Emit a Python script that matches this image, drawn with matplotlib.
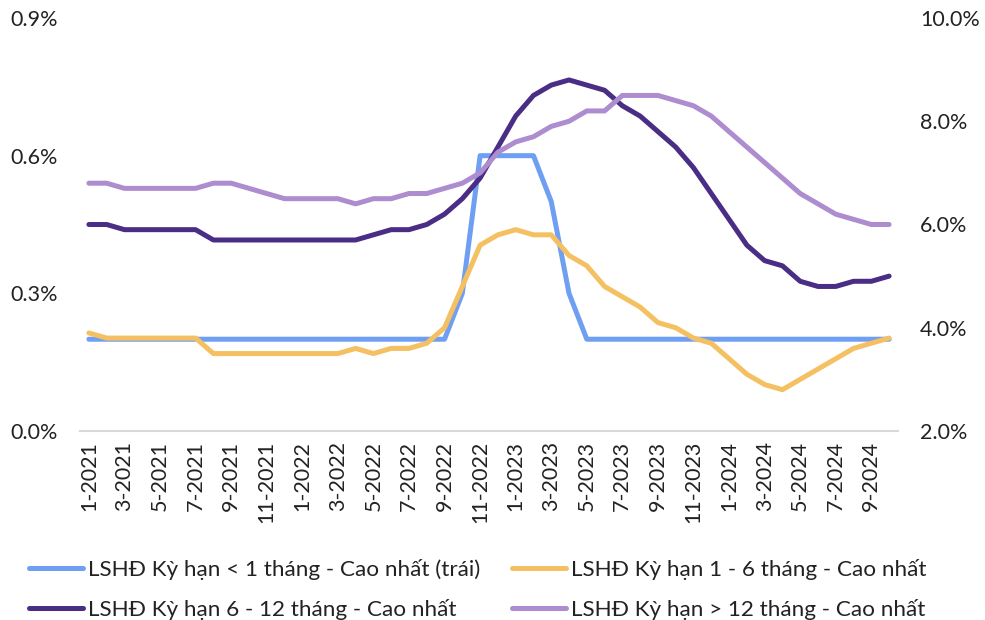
import numpy as np
import matplotlib.pyplot as plt

# --- dados (em %) ---
meses = [f"{m}-{a}" for a in (2021, 2022, 2023, 2024) for m in range(1, 13)][:46]

ky_han_duoi_1 = [0.2] * 21 + [0.3, 0.6, 0.6, 0.6, 0.6, 0.5, 0.3] + [0.2] * 18

ky_han_1_6 = [3.9, 3.8, 3.8, 3.8, 3.8, 3.8, 3.8, 3.5, 3.5, 3.5,
              3.5, 3.5, 3.5, 3.5, 3.5, 3.6, 3.5, 3.6, 3.6, 3.7,
              4.0, 4.8, 5.6, 5.8, 5.9, 5.8, 5.8, 5.4, 5.2, 4.8,
              4.6, 4.4, 4.1, 4.0, 3.8, 3.7, 3.4, 3.1, 2.9, 2.8,
              3.0, 3.2, 3.4, 3.6, 3.7, 3.8]

ky_han_6_12 = [6.0, 6.0, 5.9, 5.9, 5.9, 5.9, 5.9, 5.7, 5.7, 5.7,
               5.7, 5.7, 5.7, 5.7, 5.7, 5.7, 5.8, 5.9, 5.9, 6.0,
               6.2, 6.5, 6.9, 7.5, 8.1, 8.5, 8.7, 8.8, 8.7, 8.6,
               8.3, 8.1, 7.8, 7.5, 7.1, 6.6, 6.1, 5.6, 5.3, 5.2,
               4.9, 4.8, 4.8, 4.9, 4.9, 5.0]

ky_han_tren_12 = [6.8, 6.8, 6.7, 6.7, 6.7, 6.7, 6.7, 6.8, 6.8, 6.7,
                  6.6, 6.5, 6.5, 6.5, 6.5, 6.4, 6.5, 6.5, 6.6, 6.6,
                  6.7, 6.8, 7.0, 7.4, 7.6, 7.7, 7.9, 8.0, 8.2, 8.2,
                  8.5, 8.5, 8.5, 8.4, 8.3, 8.1, 7.8, 7.5, 7.2, 6.9,
                  6.6, 6.4, 6.2, 6.1, 6.0, 6.0]

nomes = [
    "LSHĐ Kỳ hạn < 1 tháng - Cao nhất (trái)",
    "LSHĐ Kỳ hạn 1 - 6 tháng - Cao nhất",
    "LSHĐ Kỳ hạn 6 - 12 tháng - Cao nhất",
    "LSHĐ Kỳ hạn > 12 tháng - Cao nhất",
]
cores = ["#6f9ff2", "#f4c062", "#4a2d85", "#ad8ccf"]

plt.rcParams["font.family"] = ["Lato", "DejaVu Sans"]
plt.rcParams["text.color"] = "#222222"

fig = plt.figure(figsize=(9.85, 6.2), dpi=100)
ax = fig.add_axes([80 / 985, 1 - 431 / 620, 818 / 985, 413 / 620])
ax2 = ax.twinx()

x = np.arange(len(meses))
kw = dict(lw=3.6, solid_capstyle="round", solid_joinstyle="round")
l1, = ax.plot(x, ky_han_duoi_1, color=cores[0], **kw)
l2, = ax2.plot(x, ky_han_1_6, color=cores[1], zorder=2, **kw)
l3, = ax2.plot(x, ky_han_6_12, color=cores[2], zorder=3, **kw)
l4, = ax2.plot(x, ky_han_tren_12, color=cores[3], zorder=4, **kw)

ax.set_xlim(-0.5, len(meses) - 0.5)
ax.set_ylim(0, 0.9)
ax2.set_ylim(2, 10)
ax.set_yticks([0, 0.3, 0.6, 0.9])
ax.set_yticklabels([f"{v:.1f}%" for v in [0, 0.3, 0.6, 0.9]])
ax2.set_yticks([2, 4, 6, 8, 10])
ax2.set_yticklabels([f"{v:.1f}%" for v in [2, 4, 6, 8, 10]])

ax.set_xticks(x[::2])
ax.set_xticklabels(meses[::2], rotation=90)

for a in (ax, ax2):
    for s in a.spines.values():
        s.set_visible(False)
    a.tick_params(length=0, labelsize=15.5, colors="#222222")
ax.spines["bottom"].set_visible(True)
ax.spines["bottom"].set_color("#d9d9d9")
ax.spines["bottom"].set_linewidth(1.5)
# pad em pontos (22 px ~ 15.8 pt)
ax.tick_params(axis="y", pad=15.8)
ax.tick_params(axis="x", pad=7)
ax2.tick_params(axis="y", pad=15.8)

fig.legend([l1, l3, l2, l4], [nomes[0], nomes[2], nomes[1], nomes[3]],
           ncol=2, loc="upper left", bbox_to_anchor=(29 / 985, 1 - 559 / 620),
           frameon=False, fontsize=16.2, handlelength=2.4, handletextpad=0.2,
           columnspacing=1.45, labelspacing=0.85, borderpad=0, borderaxespad=0)

fig.savefig("out.png", dpi=100)
